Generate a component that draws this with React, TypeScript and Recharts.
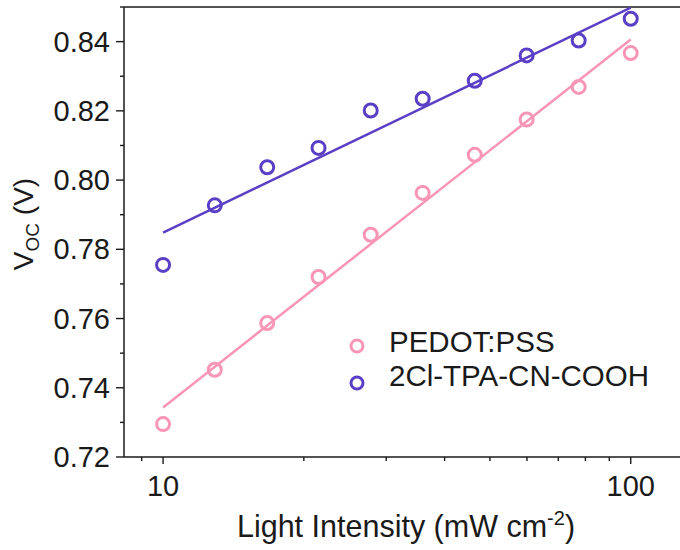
import React from "react";
import { ScatterChart, Scatter, XAxis, YAxis, ReferenceLine } from "recharts";

const intensity = [10, 12.9, 16.7, 21.5, 27.8, 35.9, 46.4, 59.9, 77.4, 100];
const vocPedot = [0.7295, 0.7452, 0.7587, 0.772, 0.7842, 0.7963, 0.8073, 0.8175, 0.8269, 0.8367];
const vocCooh = [0.7755, 0.7927, 0.8037, 0.8093, 0.8201, 0.8235, 0.8287, 0.836, 0.8403, 0.8466];

// fitted lines
const fitX = [10, 100];
const fitPedot = [0.7343, 0.8406];
const fitCooh = [0.7848, 0.8498];

const xTicks = [9, 10, 20, 30, 40, 50, 60, 70, 80, 90, 100];
const xMajor = [10, 100];
const yTicks = [0.72, 0.73, 0.74, 0.75, 0.76, 0.77, 0.78, 0.79, 0.8, 0.81, 0.82, 0.83, 0.84, 0.85];
const yMajor = ["0.72", "0.74", "0.76", "0.78", "0.80", "0.82", "0.84"];
const seriesNames = ["PEDOT:PSS", "2Cl-TPA-CN-COOH"];

const PINK = "#F995B5";
const BLUE = "#5A3FC6";
const INK = "#1a1a1a";
const FONT = "'Liberation Sans', Arial, sans-serif";

const toPoints = (xs: number[], ys: number[]) => xs.map((x, i) => ({ x, y: ys[i] }));

const ring = (color: string) => (props: any) => (
  <circle cx={props.cx} cy={props.cy} r={6.5} fill="none" stroke={color} strokeWidth={3} />
);
const noDot = () => <g />;

const XTick = (props: any) => {
  const { x, y, payload } = props;
  const major = xMajor.includes(payload.value);
  return (
    <g>
      <line x1={x} y1={y} x2={x} y2={y + (major ? 7 : 4)} stroke={INK} strokeWidth={1.4} />
      {major && (
        <text x={x} y={y + 39} textAnchor="middle" fontSize={29} fontFamily={FONT} fill={INK}>
          {payload.value}
        </text>
      )}
    </g>
  );
};

const YTick = (props: any) => {
  const { x, y, payload } = props;
  const label = payload.value.toFixed(2);
  const major = yMajor.includes(label);
  return (
    <g>
      <line x1={x - (major ? 8 : 4)} y1={y} x2={x} y2={y} stroke={INK} strokeWidth={1.4} />
      {major && (
        <text x={x - 14} y={y + 10} textAnchor="end" fontSize={29} fontFamily={FONT} fill={INK}>
          {label}
        </text>
      )}
    </g>
  );
};

export default function App() {
  return (
    <div style={{ position: "absolute", left: 0, top: 0, width: 680, height: 550, overflow: "hidden", background: "#fff" }}>
      <ScatterChart width={700} height={550} margin={{ top: 7, right: 16, bottom: 0, left: 0 }}>
        <XAxis
          type="number"
          dataKey="x"
          scale="log"
          domain={[8.25, 130]}
          ticks={xTicks}
          interval={0}
          allowDataOverflow
          tickSize={0}
          tickMargin={0}
          tickLine={false}
          tick={<XTick />}
          height={93}
          axisLine={{ stroke: INK, strokeWidth: 1.5 }}
        />
        <YAxis
          type="number"
          dataKey="y"
          domain={[0.72, 0.85]}
          ticks={yTicks}
          interval={0}
          allowDataOverflow
          tickSize={0}
          tickMargin={0}
          tickLine={false}
          tick={<YTick />}
          width={124}
          axisLine={{ stroke: INK, strokeWidth: 1.5 }}
        />
        <ReferenceLine y={0.85} stroke={INK} strokeWidth={1.5} />
        <Scatter
          data={toPoints(fitX, fitPedot)}
          line={{ stroke: PINK, strokeWidth: 2.5 }}
          shape={noDot}
          legendType="none"
          isAnimationActive={false}
        />
        <Scatter
          data={toPoints(fitX, fitCooh)}
          line={{ stroke: BLUE, strokeWidth: 2.5 }}
          shape={noDot}
          legendType="none"
          isAnimationActive={false}
        />
        <Scatter name={seriesNames[0]} data={toPoints(intensity, vocPedot)} shape={ring(PINK)} isAnimationActive={false} />
        <Scatter name={seriesNames[1]} data={toPoints(intensity, vocCooh)} shape={ring(BLUE)} isAnimationActive={false} />
        {/* legend */}
        <g fontFamily={FONT} fontSize={29.5} fill={INK}>
          <circle cx={357} cy={346} r={6} fill="none" stroke={PINK} strokeWidth={3} />
          <text x={389} y={352}>{seriesNames[0]}</text>
          <circle cx={357} cy={383} r={6} fill="none" stroke={BLUE} strokeWidth={3} />
          <text x={389} y={386}>{seriesNames[1]}</text>
        </g>
        <text x={33} y={224} transform="rotate(-90 33 224)" textAnchor="middle" fontSize={28} fontFamily={FONT} fill={INK}>
          V<tspan fontSize={19} dy={6}>OC</tspan>
          <tspan dy={-6}> (V)</tspan>
        </text>
        <text x={406} y={537} textAnchor="middle" fontSize={30.5} fontFamily={FONT} fill={INK}>
          Light Intensity (mW cm<tspan fontSize={20} dy={-12}>-2</tspan>
          <tspan dy={12}>)</tspan>
        </text>
      </ScatterChart>
    </div>
  );
}
